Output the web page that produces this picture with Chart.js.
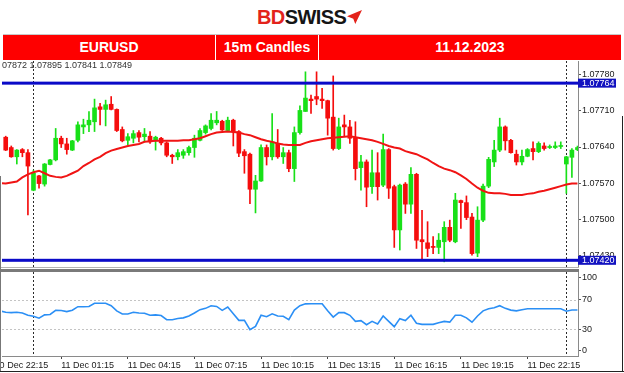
<!DOCTYPE html>
<html>
<head>
<meta charset="utf-8">
<script src="https://cdn.jsdelivr.net/npm/chart.js@4.4.0/dist/chart.umd.min.js"></script>
<style>
  body { margin: 0; background: #fff; width: 624px; height: 373px; overflow: hidden; position: relative; font-family: "Liberation Sans", Arial, sans-serif; }
  .abs { position: absolute; }
  #logo { left: 257px; top: 6px; font-weight: bold; font-size: 20px; letter-spacing: -0.6px; line-height: 22px; }
  #logo .bd { color: #e3231b; }
  #logo .sw { color: #151515; }
  #mark { left: 347px; top: 10px; width: 15px; height: 14px; background: #e3231b; clip-path: polygon(0% 45%, 100% 0%, 55% 100%, 42% 62%); }
  #bar { left: 3px; top: 35px; width: 618px; height: 25px; background: #fe0000; }
  #barTop { left: 3px; top: 34px; width: 618px; height: 1px; background: #c8c8c8; }
  .sep { top: 35px; width: 1px; height: 25px; background: #fff; }
  .cell { top: 35px; height: 25px; line-height: 25px; text-align: center; color: #fff; font-weight: bold; font-size: 14px; }
  #info { left: 2px; top: 60px; font-size: 9px; line-height: 11px; color: #333; }
  canvas { position: absolute; left: 0; }
</style>
</head>
<body>
<div id="logo" class="abs"><span class="bd">BD</span><span class="sw">SWISS</span></div>
<div id="mark" class="abs"></div>
<div id="barTop" class="abs"></div>
<div id="bar" class="abs"></div>
<div class="abs sep" style="left:215px"></div>
<div class="abs sep" style="left:318px"></div>
<div class="abs cell" style="left:3px;width:212px">EURUSD</div>
<div class="abs cell" style="left:216px;width:102px">15m Candles</div>
<div class="abs cell" style="left:319px;width:302px">11.12.2023</div>

<canvas id="priceChart" width="624" height="206" style="top:61px"></canvas>
<div class="abs" style="left:0;top:267px;width:579px;height:1px;background:#b4b4b4"></div>
<div class="abs" style="left:0;top:269px;width:579px;height:3px;background:#7a7a7a"></div>
<canvas id="rsiChart" width="624" height="104" style="top:268px"></canvas>
<div id="info" class="abs">07872 1.07895 1.07841 1.07849</div>
<div class="abs" style="left:0;top:176px;width:1px;height:196px;background:#777"></div>
<div class="abs" style="left:622px;top:116px;width:1px;height:256px;background:#222"></div>
<div class="abs" style="left:0;top:371px;width:624px;height:1px;background:#222"></div>

<script>
// 15m candles, bar 0 = 10 Dec 22:45
const open = [
  1.07659, 1.07639, 1.07621, 1.07635, 1.07629, 1.07556, 1.07584, 1.07568, 1.07606, 1.07615,
  1.07657, 1.07646, 1.07634, 1.07653, 1.07679, 1.07683, 1.07689, 1.07718, 1.07713, 1.07723,
  1.07713, 1.07674, 1.07653, 1.07657, 1.07668, 1.07660, 1.07661, 1.07652, 1.07657, 1.07648,
  1.07624, 1.07621, 1.07624, 1.07629, 1.07639, 1.07653, 1.07668, 1.07676, 1.07687, 1.07690,
  1.07672, 1.07692, 1.07670, 1.07631, 1.07626, 1.07558, 1.07574, 1.07639, 1.07621, 1.07647,
  1.07621, 1.07629, 1.07598, 1.07668, 1.07709, 1.07733, 1.07738, 1.07733, 1.07730, 1.07698,
  1.07637, 1.07683, 1.07679, 1.07657, 1.07600, 1.07611, 1.07563, 1.07590, 1.07566, 1.07635,
  1.07563, 1.07479, 1.07568, 1.07529, 1.07587, 1.07460, 1.07454, 1.07447, 1.07445, 1.07456,
  1.07484, 1.07456, 1.07536, 1.07532, 1.07504, 1.07434, 1.07498, 1.07564, 1.07611, 1.07634,
  1.07679, 1.07653, 1.07626, 1.07611, 1.07622, 1.07637, 1.07631, 1.07642, 1.07639, 1.07639,
  1.07641, 1.07607, 1.07620, 1.07635
];
const high = [
  1.07661, 1.07642, 1.07635, 1.07637, 1.07635, 1.07595, 1.07585, 1.07608, 1.07616, 1.07676,
  1.07661, 1.07657, 1.07653, 1.07689, 1.07694, 1.07709, 1.07733, 1.07725, 1.07731, 1.07738,
  1.07714, 1.07679, 1.07666, 1.07672, 1.07672, 1.07676, 1.07670, 1.07661, 1.07659, 1.07650,
  1.07626, 1.07635, 1.07635, 1.07642, 1.07663, 1.07676, 1.07683, 1.07705, 1.07709, 1.07692,
  1.07698, 1.07694, 1.07672, 1.07635, 1.07628, 1.07585, 1.07644, 1.07644, 1.07705, 1.07674,
  1.07639, 1.07634, 1.07679, 1.07720, 1.07786, 1.07741, 1.07786, 1.07754, 1.07731, 1.07778,
  1.07696, 1.07702, 1.07692, 1.07689, 1.07624, 1.07615, 1.07634, 1.07629, 1.07665, 1.07637,
  1.07566, 1.07568, 1.07571, 1.07600, 1.07589, 1.07517, 1.07495, 1.07466, 1.07472, 1.07495,
  1.07498, 1.07550, 1.07537, 1.07545, 1.07511, 1.07524, 1.07568, 1.07620, 1.07653, 1.07696,
  1.07681, 1.07655, 1.07634, 1.07634, 1.07637, 1.07650, 1.07650, 1.07648, 1.07644, 1.07650,
  1.07650, 1.07622, 1.07637, 1.07642
];
const low = [
  1.07633, 1.07620, 1.07607, 1.07621, 1.07508, 1.07555, 1.07560, 1.07564, 1.07605, 1.07613,
  1.07639, 1.07626, 1.07633, 1.07650, 1.07666, 1.07670, 1.07670, 1.07683, 1.07681, 1.07712,
  1.07670, 1.07650, 1.07644, 1.07648, 1.07650, 1.07650, 1.07647, 1.07634, 1.07644, 1.07621,
  1.07608, 1.07615, 1.07618, 1.07624, 1.07620, 1.07652, 1.07665, 1.07673, 1.07683, 1.07672,
  1.07670, 1.07642, 1.07621, 1.07589, 1.07530, 1.07512, 1.07573, 1.07605, 1.07615, 1.07618,
  1.07608, 1.07592, 1.07573, 1.07665, 1.07709, 1.07705, 1.07722, 1.07715, 1.07663, 1.07634,
  1.07635, 1.07660, 1.07647, 1.07576, 1.07556, 1.07524, 1.07550, 1.07537, 1.07563, 1.07540,
  1.07445, 1.07440, 1.07511, 1.07511, 1.07443, 1.07423, 1.07427, 1.07433, 1.07433, 1.07417,
  1.07456, 1.07454, 1.07482, 1.07499, 1.07430, 1.07427, 1.07495, 1.07561, 1.07602, 1.07631,
  1.07634, 1.07628, 1.07605, 1.07605, 1.07621, 1.07615, 1.07629, 1.07634, 1.07637, 1.07637,
  1.07637, 1.07550, 1.07581, 1.07633
];
const close = [
  1.07634, 1.07621, 1.07634, 1.07629, 1.07603, 1.07589, 1.07569, 1.07607, 1.07615, 1.07657,
  1.07646, 1.07635, 1.07652, 1.07683, 1.07683, 1.07692, 1.07716, 1.07713, 1.07722, 1.07713,
  1.07672, 1.07652, 1.07660, 1.07666, 1.07659, 1.07665, 1.07650, 1.07659, 1.07648, 1.07624,
  1.07621, 1.07629, 1.07631, 1.07639, 1.07657, 1.07672, 1.07681, 1.07692, 1.07692, 1.07673,
  1.07692, 1.07670, 1.07628, 1.07623, 1.07558, 1.07574, 1.07639, 1.07621, 1.07650, 1.07621,
  1.07629, 1.07598, 1.07668, 1.07711, 1.07735, 1.07730, 1.07733, 1.07730, 1.07696, 1.07637,
  1.07679, 1.07679, 1.07657, 1.07598, 1.07611, 1.07562, 1.07590, 1.07563, 1.07635, 1.07560,
  1.07479, 1.07566, 1.07529, 1.07587, 1.07459, 1.07456, 1.07443, 1.07445, 1.07459, 1.07484,
  1.07459, 1.07537, 1.07532, 1.07503, 1.07433, 1.07498, 1.07564, 1.07616, 1.07634, 1.07679,
  1.07652, 1.07629, 1.07611, 1.07622, 1.07635, 1.07631, 1.07647, 1.07637, 1.07641, 1.07642,
  1.07642, 1.07621, 1.07634, 1.07639
];

// moving average and RSI start one bar earlier (bar -1)
const lineStart = -1;
const movingAvg = [
  1.07570,
  1.07569, 1.07571, 1.07573, 1.07581, 1.07587, 1.07591, 1.07594, 1.07589, 1.07584, 1.07582,
  1.07581, 1.07584, 1.07589, 1.07594, 1.07603, 1.07609, 1.07616, 1.07621, 1.07628, 1.07633,
  1.07636, 1.07639, 1.07642, 1.07644, 1.07646, 1.07650, 1.07651, 1.07652, 1.07652, 1.07652,
  1.07652, 1.07652, 1.07653, 1.07653, 1.07655, 1.07657, 1.07661, 1.07665, 1.07668, 1.07669,
  1.07670, 1.07669, 1.07668, 1.07665, 1.07663, 1.07659, 1.07655, 1.07652, 1.07650, 1.07647,
  1.07645, 1.07644, 1.07644, 1.07644, 1.07648, 1.07651, 1.07653, 1.07655, 1.07657, 1.07658,
  1.07659, 1.07660, 1.07661, 1.07659, 1.07657, 1.07655, 1.07653, 1.07650, 1.07646, 1.07642,
  1.07639, 1.07637, 1.07632, 1.07629, 1.07626, 1.07621, 1.07616, 1.07609, 1.07603, 1.07598,
  1.07595, 1.07591, 1.07585, 1.07578, 1.07569, 1.07561, 1.07555, 1.07551, 1.07550, 1.07550,
  1.07549, 1.07547, 1.07547, 1.07547, 1.07549, 1.07550, 1.07553, 1.07555, 1.07558, 1.07561,
  1.07564, 1.07567, 1.07569, 1.07569
];
const rsi = [
  55,
  53, 52.5, 53, 52, 49, 47.5, 45, 49.5, 50, 55.7,
  55.5, 54, 55.9, 60.7, 60.7, 61, 65.3, 65.3, 65.3, 62,
  55, 50.7, 50.7, 53, 52, 51.8, 49, 49.5, 48.6, 43,
  42.9, 44.5, 45.4, 48, 52, 56.6, 58.4, 62, 61, 55.7,
  60.3, 51, 42, 42, 29.2, 33.8, 48.9, 47, 51, 48,
  47.6, 43, 56, 62, 64.6, 64.8, 64.8, 64.8, 55, 46.5,
  52.5, 52.5, 48.9, 40.6, 41.6, 36, 40.6, 37, 47.9, 40.6,
  33.3, 44.3, 41.6, 48.9, 37.9, 36.5, 36.5, 36.5, 38.6, 40.6,
  39.5, 48.9, 48.9, 45.4, 39.5, 48, 55, 57.8, 59.2, 62,
  58.4, 56, 55, 56.6, 57.8, 57.8, 57.8, 57.8, 57.8, 57.8,
  57.8, 54.4, 56.2, 56.2
];

const priceTicks = [1.07430, 1.07500, 1.07570, 1.07640, 1.07710, 1.07780];
const levelLines = [1.07764, 1.07420];
const rsiTicks = [0, 30, 70, 100];
const rsiLevels = [30, 70];
const xTickBars = [-2, 10, 22, 34, 46, 58, 70, 82, 94];
const xTickLabels = ["10 Dec 22:15", "11 Dec 01:15", "11 Dec 04:15", "11 Dec 07:15", "11 Dec 10:15",
  "11 Dec 13:15", "11 Dec 16:15", "11 Dec 19:15", "11 Dec 22:15"];
const dayBreaks = [5, 101];

const xMin = -0.67, xMax = 103.1;
const FONT = { family: "Liberation Sans, Arial, sans-serif", size: 9 };
const UP = "#18e018", DOWN = "#f50d0d";

const candleColor = close.map((c, i) => (c >= open[i] ? UP : DOWN));

// separators, level lines and price tags
const overlay = {
  id: "overlay",
  beforeDatasetsDraw(chart, args, opts) {
    const { ctx, chartArea: a, scales } = chart;
    ctx.save();
    ctx.strokeStyle = "#2a2a2a";
    ctx.lineWidth = 1;
    ctx.setLineDash([2, 2]);
    dayBreaks.forEach((b) => {
      const x = Math.round(scales.x.getPixelForValue(b)) + 0.5;
      ctx.beginPath();
      ctx.moveTo(x, a.top);
      ctx.lineTo(x, a.bottom);
      ctx.stroke();
    });
    if (opts.dotted) {
      ctx.strokeStyle = "#c4c4c4";
      opts.dotted.forEach((v) => {
        const y = Math.round(scales.y.getPixelForValue(v)) + 0.5;
        ctx.beginPath();
        ctx.moveTo(a.left, y);
        ctx.lineTo(a.right, y);
        ctx.stroke();
      });
    }
    ctx.restore();
  },
  afterDraw(chart, args, opts) {
    if (!opts.levels) return;
    const { ctx, chartArea: a, scales } = chart;
    ctx.save();
    opts.levels.forEach((v) => {
      const y = scales.y.getPixelForValue(v);
      ctx.fillStyle = "#0a0ac8";
      ctx.fillRect(a.left, y - 1.5, a.right - a.left, 3);
      ctx.fillStyle = "#1212c0";
      ctx.fillRect(a.right, y - 4.5, 38, 9);
      ctx.fillStyle = "#fff";
      ctx.font = "9px Liberation Sans, Arial, sans-serif";
      ctx.textBaseline = "middle";
      ctx.fillText(v.toFixed(5), a.right + 4, y + 0.5);
    });
    ctx.restore();
  },
};

function rightAxis(ticks, fmt, min, max) {
  return {
    position: "right",
    min, max,
    beginAtZero: false,
    afterFit: (s) => { s.width = 46; s.paddingTop = 0; s.paddingBottom = 0; },
    afterBuildTicks: (s) => { s.ticks = ticks.map((v) => ({ value: v })); },
    ticks: { font: FONT, color: "#1a1a1a", padding: 1, callback: fmt, autoSkip: false },
    grid: { drawOnChartArea: false, tickLength: 3, tickColor: "#555" },
    border: { color: "#8a8a8a" },
  };
}

Chart.defaults.font.family = FONT.family;

new Chart(document.getElementById("priceChart"), {
  type: "bar",
  data: {
    datasets: [
      {
        type: "line",
        data: movingAvg.map((v, i) => ({ x: i + lineStart, y: v })),
        borderColor: "#f01414",
        borderWidth: 2,
        pointRadius: 0,
        order: 0,
      },
      {
        data: open.map((o, i) => ({ x: i, y: [o, close[i]] })),
        backgroundColor: candleColor,
        barThickness: 4,
        minBarLength: 1,
        grouped: false,
        order: 1,
      },
      {
        data: low.map((l, i) => ({ x: i, y: [l, high[i]] })),
        backgroundColor: candleColor,
        barThickness: 1,
        grouped: false,
        order: 2,
      },
    ],
  },
  options: {
    responsive: false,
    animation: false,
    devicePixelRatio: 1,
    layout: { padding: { left: 2, right: 0, top: 0, bottom: 0 } },
    plugins: { legend: { display: false }, tooltip: { enabled: false }, overlay: { levels: levelLines } },
    scales: {
      x: { type: "linear", min: xMin, max: xMax, offset: false, display: false },
      y: rightAxis(priceTicks, (v) => v.toFixed(5), 1.07407, 1.07807),
    },
  },
  plugins: [overlay],
});

new Chart(document.getElementById("rsiChart"), {
  type: "line",
  data: {
    datasets: [
      {
        data: rsi.map((v, i) => ({ x: i + lineStart, y: v })),
        borderColor: "#2b8ff5",
        borderWidth: 1.6,
        pointRadius: 0,
      },
    ],
  },
  options: {
    responsive: false,
    animation: false,
    devicePixelRatio: 1,
    layout: { padding: { left: 2, right: 0, top: 4, bottom: 0 } },
    plugins: { legend: { display: false }, tooltip: { enabled: false }, overlay: { dotted: rsiLevels } },
    scales: {
      x: {
        type: "linear",
        min: xMin,
        max: xMax,
        afterFit: (s) => { s.height = 16; s.paddingLeft = 0; s.paddingRight = 0; },
        afterBuildTicks: (s) => { s.ticks = xTickBars.map((v) => ({ value: v })); },
        ticks: {
          font: FONT,
          color: "#1a1a1a",
          align: "start",
          padding: 1,
          maxRotation: 0,
          autoSkip: false,
          callback: (v) => xTickLabels[xTickBars.indexOf(v)],
        },
        grid: { drawOnChartArea: false, tickLength: 3, tickColor: "#444" },
        border: { color: "#8a8a8a" },
      },
      y: rightAxis(rsiTicks, (v) => String(v), -6.85, 108.2),
    },
  },
  plugins: [overlay],
});
</script>
</body>
</html>
